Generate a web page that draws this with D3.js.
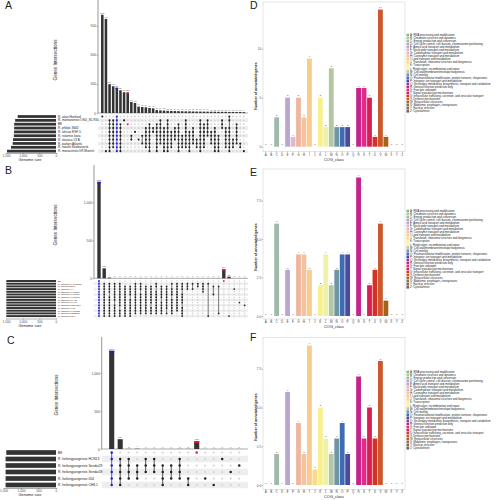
<!DOCTYPE html>
<html><head><meta charset="utf-8">
<script src="https://cdn.jsdelivr.net/npm/d3@7"></script>
<style>body{margin:0;background:#fff}svg{display:block;font-family:"Liberation Sans",Arial,sans-serif}</style>
</head><body><svg id="c" width="497" height="500"></svg>
<script>
// ---------- Panel A data ----------
const setsA = ["R. akari Hartford","R. montanensis OSU_85-930","B8","R. philipii 364D","R. africae ESF-5","R. rickettsii Iowa","R. slovaca 13-B","R. parkeri Atlantic","R. raoultii Khabarovsk","R. monacensis IrR Munich"];
const sizesA = [1150,1225,1255,1255,1258,1265,1290,1300,1350,1470];
const valuesA = [1013,970,297,276,259,234,214,210,114,103,66,62,59,52,48,30,27,25,22,21,20,19,18,17,17,16,15,15,14,14,13,13,12,12,12,11,11,10,10,9];
const membersA = [[0],[9],[1,2,3,4,5,6,7,8,9],[1,2,3,4,5,6,7,8],[0,1,2,3,4,5,6,7,8,9],[2,3,4,5,6,7,8,9],[1],[2],[5,6],[4],[6],[5,7],[3,4,5,6,7,8],[2,3,4,5,6,7,8,9],[3,4],[2,3,4,5,6,7,8,9],[1,2,3,4,5,6,7],[3,4,5,6,7,8,9],[1,2,3,4,5,6,7,8,9],[4,5,6,7,8],[3,4,5,6],[2,3,4,5,6,7,8,9],[5,6,7,8],[1,2,3,4,5,6,7,8],[4,5,6,7,8,9],[3,4,5,6,7],[6,7,8],[1,2,3,4,5,6,7,8,9],[2,3,4,5,6,7,8],[1,2,3,4,5],[4,5,6,7],[3,4,5,6,7,8,9],[5,6,7,8,9],[1,2,3],[3,4,5,6,7,8],[0,1,3,4,5,6,7,8,9],[6,7,8],[2,3,4,5,6,7],[7,8],[9]];
const ticksA = [0,300,600,900];

// ---------- Panel B data ----------
const setsB = ["B8","R. japonica LA16/2015","R. japonica DT-1","R. japonica YH","R. japonica HH06154","R. japonica HH07124","R. japonica HH07167","R. japonica HH-13","R. japonica HH-16","R. japonica Katayama","R. japonica YHM","R. japonica HH06125","R. japonica Kawasaki","R. japonica PO-1"];
const sizesB = [1490,1490,1490,1490,1490,1490,1490,1490,1490,1490,1490,1490,1490,1490];
const valuesB = [1268,131,9,1,1,1,1,1,1,1,1,1,1,1,1,1,1,1,1,1,1,1,1,1,119,21,1,1,1];
const membersB = [[0,1,2,3,4,5,6,7,8,9,10,11,12,13],[1,2,3,4,5,6,7,8,9,10,11,12,13],[1,2,3,4,6,7,8,9,10,11,12,13],[1,2,3,4,5,6,7,9,10,11,12,13],[1,2,3,4,5,6,7,8,9,11,12,13],[2,3,4,5,6,7,8,9,10,11,12,13],[2,3,4,5,7,8,9,10,11,12,13],[1,2,3,4,5,6,7,8,9,10,11,12],[1,2,3,5,6,7,8,9,10,11,12],[2,3,4,5,6,7,8,9,10,11,12],[2,3,4,5,6,7,8,10,11,12],[1,2,4,5,6,7,8,9,10,11,12],[2,3,4,5,6,8,9,10,11,12],[2,3,4,5,6,7,8,9,10,12],[1,3,4,5,7,8,9,10,11,12],[1,2,3,4,5,6,7,8,9,10,11],[1,2,3,5,6,7,8,10,11,12,13],[1,2,3],[1,3],[1,2],[1,2,3,4],[1,13],[2,5],[2,12],[0],[13],[3],[8],[9]];
const ticksB = [0,500,1000];

// ---------- Panel C data ----------
const setsC = ["B8","R. heilongjiangensis HCN13","R. heilongjiangensis Sendai29","R. heilongjiangensis Sendai58","R. heilongjiangensis 054","R. heilongjiangensis CH8-1"];
const sizesC = [1420,1440,1440,1440,1440,1440];
const valuesC = [1291,129,2,4,1,1,1,1,2,2,102,1,1,1,1,1];
const membersC = [[0,1,2,3,4,5],[1,2,3,4,5],[1,2,3,4],[2,3,4],[1,2,3],[1,2,3],[2,3,4,5],[2,3,4],[1,2,3,4],[4,5],[0],[4],[5],[1],[3],[2]];
const ticksC = [0,500,1000];
const genomeTicks = [1500,1000,500,0];

// ---------- COG data ----------
const cogClasses = "ABCDEFGHIJKLMNOPQRSTUVWXYZ".split("");
const cogD = [0,0,3,0,5,1,5,3,9,0,5,2,8,2,2,2,0,6,6,5,1,14,1,0,0,0];
const cogE = [0,0,6,0,3,0,4,4,3,0,2,4,2,3,4,4,0,9,0,2,3,6,1,0,0,0];
const cogF = [0,0,2,0,6,0,4,2,9,1,5,3,2,3,4,2,0,7,3,5,3,8,0,0,0,0];
const ticksD = [0,5,10];
const ticksEF = [0,2.5,5,7.5];
const cogColors = ["#7fbf7b","#a6d096","#9fbaa8","#b3a6cc","#b9a7cf","#dbbbd0","#efb59d","#f4c39e","#f8cc8c","#fbd98a","#f8ef8e","#eef2a8","#b3c8a0","#6e96a5","#3f6db3","#4b4a9e","#8b3f9a","#c5228b","#e22a86","#d61f52","#d73027","#c9582a","#a6611a","#8c6d4f","#7a6a5a","#666666"];
const cogNames = ["A: RNA processing and modification","B: Chromatin structure and dynamics","C: Energy production and conversion","D: Cell cycle control, cell division, chromosome partitioning","E: Amino acid transport and metabolism","F: Nucleotide transport and metabolism","G: Carbohydrate transport and metabolism","H: Coenzyme transport and metabolism","I: Lipid transport and metabolism","J: Translation, ribosomal structure and biogenesis","K: Transcription","L: Replication, recombination and repair","M: Cell wall/membrane/envelope biogenesis","N: Cell motility","O: Posttranslational modification, protein turnover, chaperones","P: Inorganic ion transport and metabolism","Q: Secondary metabolites biosynthesis, transport and catabolism","R: General function prediction only","S: Function unknown","T: Signal transduction mechanisms","U: Intracellular trafficking, secretion, and vesicular transport","V: Defense mechanisms","W: Extracellular structures","X: Mobilome: prophages, transposons","Y: Nuclear structure","Z: Cytoskeleton"];

const svg = d3.select("#c");
const BLUE = "#1f1fd0", RED = "#e0202a", DARK = "#333333";

function upset(c) {
  const g = svg.append("g");
  const n = c.values.length, nr = c.sets.length;
  const y = d3.scaleLinear().domain([0, c.yMax]).range([c.base, c.top]);
  const x = d3.scaleBand().domain(d3.range(n))
      .range([c.x0 - c.step/2, c.x0 + (n - 0.5)*c.step]).paddingInner(c.pad).paddingOuter(c.pad/2);
  const ry = d3.scalePoint().domain(d3.range(nr)).range([c.r0, c.r0 + (nr-1)*c.rs]);
  g.selectAll("rect.stripe").data(d3.range(nr).filter(i => i % 2 === 1)).join("rect")
    .attr("x", c.axisX).attr("width", 248 - c.axisX)
    .attr("y", i => ry(i) - c.rs/2).attr("height", c.rs).attr("fill", "#eeeeee");
  const ax = g.append("g").attr("transform", `translate(${c.axisX},0)`)
    .call(d3.axisLeft(y).tickValues(c.ticks).tickSize(1.2).tickSizeOuter(0));
  ax.select(".domain").attr("stroke", DARK).attr("stroke-width", 0.5).attr("d", `M0,${c.top}V${c.base}`);
  ax.selectAll(".tick line").attr("stroke", DARK).attr("stroke-width", 0.4);
  ax.selectAll(".tick text").attr("x", -1.8).attr("font-size", 3.4).attr("fill", "#4d4d4d");
  g.append("line").attr("x1", c.axisX).attr("x2", 248).attr("y1", c.base).attr("y2", c.base)
    .attr("stroke", DARK).attr("stroke-width", 0.4);
  g.selectAll("rect.bar").data(c.values).join("rect")
    .attr("x", (d,i) => x(i)).attr("width", x.bandwidth())
    .attr("y", d => y(d)).attr("height", d => c.base - y(d)).attr("fill", DARK);
  g.selectAll("text.bl").data(c.values).join("text")
    .attr("x", (d,i) => x(i) + x.bandwidth()/2).attr("y", d => y(d) - 1.2)
    .attr("text-anchor", "middle").attr("font-size", c.labFont).attr("fill", "#555").text(d => d);
  [[c.blue, BLUE], [c.red, RED]].forEach(([i, col]) => {
    g.append("rect").attr("x", x(i)).attr("width", x.bandwidth())
      .attr("y", y(c.values[i]) - 0.2).attr("height", c.mark).attr("fill", col);
  });
  g.append("text").attr("transform", `translate(${c.labX},${c.labY}) rotate(-90)`)
    .attr("text-anchor", "middle").attr("font-size", 4.6).attr("fill", "#222").text("Genes Intersections");
  d3.range(n).forEach(i => {
    const xc = x(i) + x.bandwidth()/2;
    const mem = c.members[i];
    const col = i === c.blue ? BLUE : (i === c.red ? RED : "#222");
    d3.range(nr).forEach(r => {
      if (!mem.includes(r)) g.append("circle").attr("cx", xc).attr("cy", ry(r)).attr("r", c.rad*0.9).attr("fill", "#d6d6d6");
    });
    if (mem.length > 1) g.append("line").attr("x1", xc).attr("x2", xc)
      .attr("y1", ry(d3.min(mem))).attr("y2", ry(d3.max(mem))).attr("stroke", col).attr("stroke-width", c.rad*0.6);
    mem.forEach(r => g.append("circle").attr("cx", xc).attr("cy", ry(r)).attr("r", c.rad).attr("fill", col));
  });
  const gx = d3.scaleLinear().domain([0, 1500]).range([56, c.g1500]);
  g.selectAll("rect.sz").data(c.sizes).join("rect")
    .attr("x", d => gx(d)).attr("width", d => 56 - gx(d))
    .attr("y", (d,i) => ry(i) - c.rs*0.36).attr("height", c.rs*0.72).attr("fill", DARK);
  g.selectAll("text.sn").data(c.sets).join("text")
    .attr("x", 58).attr("y", (d,i) => ry(i)).attr("dy", "0.35em")
    .attr("font-size", c.setFont).attr("fill", "#222").text(d => d);
  const gax = g.append("g").attr("transform", `translate(0,${c.gAxisY})`)
    .call(d3.axisBottom(gx).tickValues(genomeTicks).tickSize(1).tickSizeOuter(0));
  gax.select(".domain").attr("stroke", DARK).attr("stroke-width", 0.4);
  gax.selectAll(".tick line").attr("stroke", DARK).attr("stroke-width", 0.4);
  gax.selectAll(".tick text").attr("y", 1.8).attr("font-size", 3.2).attr("fill", "#4d4d4d");
  g.append("text").attr("x", 30).attr("y", c.gTitleY).attr("text-anchor", "middle")
    .attr("font-size", 3.9).attr("fill", "#222").text("Genome size");
  g.append("text").attr("x", c.letX).attr("y", c.letY).attr("font-size", 10.5).attr("fill", "#222").text(c.letter);
}

upset({sets: setsA, sizes: sizesA, values: valuesA, members: membersA, blue: 4, red: 7,
  axisX: 98, base: 113, top: 0, yMax: 1165, ticks: ticksA, x0: 102.3, step: 3.63, pad: 0.3,
  r0: 116.5, rs: 3.85, rad: 1.05, setFont: 3.1, labFont: 1.9, mark: 1.4,
  g1500: 6, gAxisY: 153, gTitleY: 161, labX: 57, labY: 60, letter: "A", letX: 5, letY: 9});
upset({sets: setsB, sizes: sizesB, values: valuesB, members: membersB, blue: 0, red: 24,
  axisX: 94, base: 278.3, top: 165, yMax: 1491, ticks: ticksB, x0: 99, step: 5.2, pad: 0.35,
  r0: 281, rs: 2.7, rad: 0.9, setFont: 2.3, labFont: 2.2, mark: 1.6,
  g1500: 6, gAxisY: 318.5, gTitleY: 326.5, labX: 57, labY: 225, letter: "B", letX: 5, letY: 174});
upset({sets: setsC, sizes: sizesC, values: valuesC, members: membersC, blue: 0, red: 10,
  axisX: 101.7, base: 449, top: 337, yMax: 1474, ticks: ticksC, x0: 111.7, step: 8.5, pad: 0.4,
  r0: 452.5, rs: 6.5, rad: 1.25, setFont: 3.3, labFont: 2.4, mark: 1.8,
  g1500: 3.5, gAxisY: 488, gTitleY: 496, labX: 58, labY: 395, letter: "C", letX: 7, letY: 344});

function cog(vals, c) {
  const g = svg.append("g");
  const x = d3.scaleBand().domain(cogClasses).range([263, 405]).paddingInner(0.12).paddingOuter(0.06);
  const y = d3.scaleLinear().domain([0, c.yMax]).range([c.y0, c.top]);
  g.append("rect").attr("x", 263).attr("y", c.top).attr("width", 142).attr("height", c.bottom - c.top)
    .attr("fill", "none").attr("stroke", "#d4d4d4").attr("stroke-width", 0.6);
  g.selectAll("rect.b").data(vals).join("rect")
    .attr("x", (d,i) => x(cogClasses[i])).attr("width", x.bandwidth())
    .attr("y", d => y(d)).attr("height", d => c.y0 - y(d))
    .attr("fill", (d,i) => cogColors[i]);
  g.selectAll("text.v").data(vals).join("text")
    .attr("x", (d,i) => x(cogClasses[i]) + x.bandwidth()/2).attr("y", d => y(d) - 1.3)
    .attr("text-anchor", "middle").attr("font-size", 2.5).attr("fill", "#333").text(d => d);
  const ax = g.append("g").attr("transform", "translate(263,0)")
    .call(d3.axisLeft(y).tickValues(c.ticks).tickFormat(c.fmt).tickSize(1.2).tickSizeOuter(0));
  ax.select(".domain").remove();
  ax.selectAll(".tick line").attr("stroke", "#444").attr("stroke-width", 0.4);
  ax.selectAll(".tick text").attr("x", -1.8).attr("font-size", 3.2).attr("fill", "#4d4d4d");
  const xa = g.append("g").attr("transform", `translate(0,${c.bottom})`)
    .call(d3.axisBottom(x).tickSize(1.2).tickSizeOuter(0));
  xa.select(".domain").remove();
  xa.selectAll(".tick line").attr("stroke", "#444").attr("stroke-width", 0.4);
  xa.selectAll(".tick text").attr("y", 2).attr("font-size", 3.1).attr("fill", "#4d4d4d");
  g.append("text").attr("x", 334).attr("y", c.bottom + 9).attr("text-anchor", "middle")
    .attr("font-size", 3.9).attr("fill", "#222").text("COG_class");
  g.append("text").attr("transform", `translate(256.5,${c.ylabY}) rotate(-90)`).attr("text-anchor", "middle")
    .attr("font-size", 3.6).attr("font-weight", "bold").attr("fill", "#222").text("Number of annotated genes");
  g.append("text").attr("x", 250).attr("y", c.letY).attr("font-size", 10.5).attr("fill", "#222").text(c.letter);
  const lg = g.append("g");
  const ly = d3.scalePoint().domain(cogClasses).range([c.legY, c.legY + 25*3.05]);
  lg.selectAll("rect").data(cogClasses).join("rect")
    .attr("x", 406.5).attr("y", d => ly(d) - 1.3).attr("width", 2.6).attr("height", 2.6)
    .attr("fill", (d,i) => cogColors[i]);
  lg.selectAll("text").data(cogNames).join("text")
    .attr("x", 410).attr("y", (d,i) => ly(cogClasses[i])).attr("dy", "0.35em")
    .attr("font-size", 2.8).attr("fill", "#222").text(d => d);
}
cog(cogD, {top: 2, bottom: 151.7, y0: 146.7, yMax: 14.77, ticks: ticksD, fmt: d3.format("d"), ylabY: 86, letter: "D", letY: 9, legY: 35});
cog(cogE, {top: 169, bottom: 319, y0: 316, yMax: 9.55, ticks: ticksEF, fmt: d3.format(".1f"), ylabY: 247, letter: "E", letY: 176, legY: 211});
cog(cogF, {top: 337.3, bottom: 489.3, y0: 485, yMax: 9.53, ticks: ticksEF, fmt: d3.format(".1f"), ylabY: 417, letter: "F", letY: 341, legY: 372});
</script></body></html>
